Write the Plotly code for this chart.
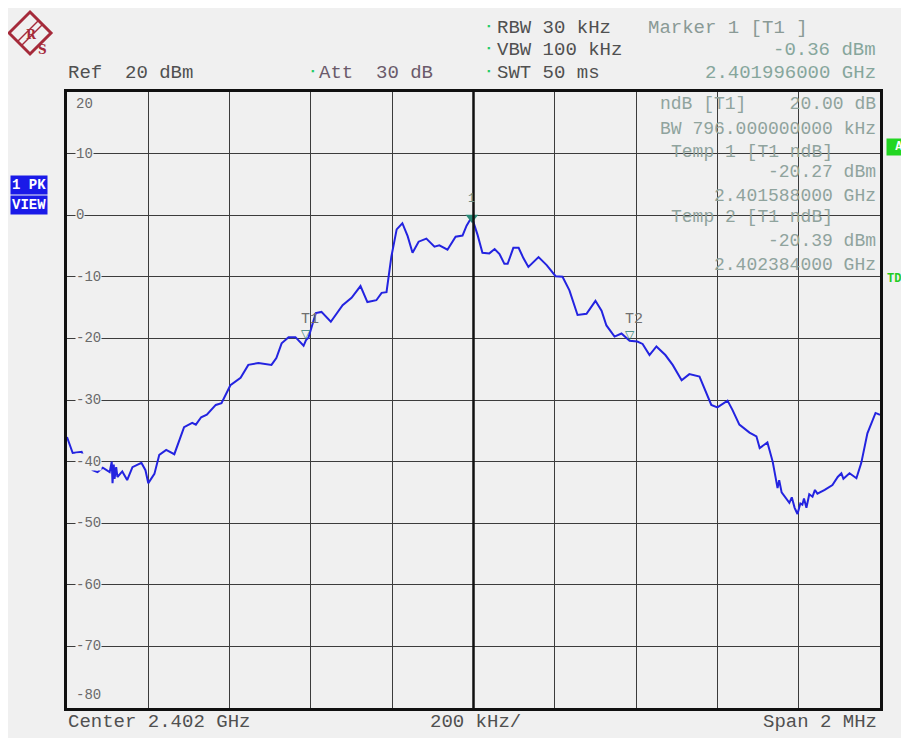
import plotly.graph_objects as go

# ---------------- data ----------------
center_ghz = 2.402
span_mhz = 2
ref_level_dbm = 20
freq_offset_khz = [
    -1000, -986, -964, -952, -937, -925, -912, -895, -890, -888, -885, -883, -879, -876,
    -864, -852, -839, -817, -807, -800, -785, -773, -756, -736, -712, -692, -683, -670,
    -656, -634, -620, -598, -573, -554, -529, -497, -485, -472, -455, -438, -418, -412,
    -406, -388, -374, -351, -322, -300, -278, -261, -239, -226, -214, -202, -189, -175,
    -162, -150, -135, -116, -96, -84, -64, -44, -27, -17, -8, -4, 10, 22, 39, 52, 64,
    76, 84, 98, 111, 123, 135, 148, 160, 180, 202, 219, 236, 256, 278, 300, 315, 327,
    347, 364, 384, 403, 416, 433, 450, 472, 490, 512, 531, 556, 573, 585, 600, 625,
    637, 654, 679, 696, 704, 723, 736, 748, 752, 758, 777, 783, 790, 797, 804, 809,
    813, 819, 826, 834, 840, 846, 864, 883, 896, 905, 910, 918, 925, 942, 954, 969,
    989, 1000,
]
level_dbm = [
    -36.0, -38.6, -38.4, -40.2, -41.4, -41.7, -41.0, -41.7, -40.0, -43.5, -40.5, -42.8, -40.9, -42.5,
    -41.6, -43.0, -40.9, -40.2, -41.4, -43.5, -42.0, -38.9, -38.1, -38.8, -34.4, -33.7, -34.0, -32.8,
    -32.4, -30.8, -30.5, -27.6, -26.4, -24.3, -24.0, -24.3, -23.2, -20.8, -19.8, -19.8, -21.2, -20.27,
    -19.9, -15.9, -15.7, -17.3, -14.6, -13.4, -11.5, -14.1, -13.8, -12.6, -12.5, -6.7, -2.3, -1.3,
    -3.4, -6.1, -4.3, -3.8, -5.1, -4.9, -5.6, -3.5, -3.3, -1.7, -0.7, -0.36, -3.2, -6.1, -6.2, -5.5, -6.3,
    -7.9, -7.9, -5.3, -5.3, -7.0, -8.4, -7.6, -6.8, -8.1, -9.9, -10.0, -12.2, -16.2, -16.0, -13.9, -15.5, -17.9,
    -19.7, -19.2, -20.39, -20.5, -20.9, -22.7, -21.3, -22.7, -24.3, -26.8, -25.8, -26.2, -28.9, -30.8, -31.2, -30.1,
    -31.6, -34.0, -35.3, -35.9, -37.8, -36.9, -40.0, -44.3, -43.0, -45.0, -46.7, -45.8, -47.5, -48.5, -46.8, -47.0,
    -46.0, -47.5, -45.3, -45.7, -44.6, -45.2, -44.6, -43.8, -42.5, -41.9, -42.8, -42.3, -41.9, -42.7, -40.2, -35.4,
    -32.1, -32.4,
]
marker_names = ["1", "T1", "T2"]
marker_freq_khz = [-4, -412, 384]
marker_level_dbm = [-0.36, -20.27, -20.39]
y_tick_values = [20, 10, 0, -10, -20, -30, -40, -50, -60, -70, -80]

# ---------------- geometry helpers (page pixel -> paper) ----------------
OFF = 8                      # browser body margin
W, H = 909 - OFF, 738 - OFF  # figure size
L, R, T, B = 67, 880, 92, 708  # plot area in page pixels
def px(x):
    return (x - L) / (R - L)
def py(y):
    return (B - y) / (B - T)

BG = "#f0f0f0"
MONO = "Liberation Mono, Courier New, monospace"
TXT = "#505050"
MK = "#86a69c"

fig = go.Figure()
fig.add_trace(go.Scatter(
    x=freq_offset_khz, y=level_dbm, mode="lines",
    line=dict(color="#2323e0", width=2), hoverinfo="skip", showlegend=False,
))

# main marker
fig.add_trace(go.Scatter(
    x=marker_freq_khz[:1], y=marker_level_dbm[:1], mode="markers",
    marker=dict(symbol="triangle-down", size=11, color="#2a8a78"), showlegend=False,
))

anns = []
for name, f, lv in zip(marker_names, marker_freq_khz, marker_level_dbm):
    if name == "1":
        anns.append(dict(x=f, y=lv, xref="x", yref="y", text="1", showarrow=False,
                         yshift=18, font=dict(family=MONO, size=12, color="#6a8a80")))
    else:
        anns.append(dict(x=f, y=lv, xref="x", yref="y", text="▽", showarrow=False,
                         yshift=6, font=dict(family="DejaVu Sans", size=12, color="#2a7a70")))
        anns.append(dict(x=f, y=lv, xref="x", yref="y", text=name, showarrow=False,
                         yshift=21, xshift=4, font=dict(family=MONO, size=15, color="#707070")))

# y tick labels inside plot
for v in y_tick_values:
    a = dict(x=0, y=v, xref="x domain", yref="y", text=str(v), showarrow=False,
             xanchor="left", xshift=8, font=dict(family=MONO, size=14, color="#6a6a6a"),
             bgcolor=BG, borderpad=0)
    if v == 20:
        a.update(yanchor="top", yshift=-3, bgcolor="rgba(0,0,0,0)")
    elif v == -80:
        a.update(yanchor="bottom", yshift=4, bgcolor="rgba(0,0,0,0)")
    anns.append(a)

def txt(x, y, s, anchor="left", color=TXT, size=19):
    anns.append(dict(x=px(x), y=py(y), xref="paper", yref="paper", text=s, showarrow=False,
                     xanchor=anchor, yanchor="middle", font=dict(family=MONO, size=size, color=color)))

# header
txt(66, 73, "Ref  20 dBm")
txt(317, 73, "Att  30 dB", color="#6a5a6a")
txt(495, 28, "RBW 30 kHz")
txt(495, 50, "VBW 100 kHz")
txt(495, 73, "SWT 50 ms")
for yy in (27, 49, 72):
    txt(489, yy, "▪", anchor="center", color="#22cc66", size=9)
txt(312, 72, "▪", anchor="center", color="#22cc66", size=9)
txt(646, 28, "Marker 1 [T1 ]", color="#8a9a96")
txt(878, 50, "-0.36 dBm", anchor="right", color=MK)
txt(878, 73, "2.401996000 GHz", anchor="right", color=MK)

# right-hand marker panel
panel = [(104, "ndB [T1]    20.00 dB"), (129, "BW 796.000000000 kHz"),
         (152, "Temp 1 [T1 ndB]    "), (172, "-20.27 dBm"), (196, "2.401588000 GHz"),
         (217, "Temp 2 [T1 ndB]    "), (241, "-20.39 dBm"), (265, "2.402384000 GHz")]
for yy, s in panel:
    txt(878, yy, s, anchor="right", color="#8fa39d", size=18)

# footer
txt(66, 722, "Center 2.402 GHz")
txt(476, 722, "200 kHz/", anchor="center")
txt(879, 722, "Span 2 MHz", anchor="right")

# side boxes
def box(x, y, s, bg, color="white", size=11):
    anns.append(dict(x=px(x), y=py(y), xref="paper", yref="paper", text=s, showarrow=False,
                     xanchor="left", yanchor="middle", bgcolor=bg, borderpad=1,
                     font=dict(family=MONO, size=size, color=color)))
box(10, 185, "<b>1 PK</b>", "#1a1ae8", size=14)
box(10, 205, "<b>VIEW</b>", "#1a1ae8", size=14)
box(886, 147, "<b> A </b>", "#22d622", size=12)
txt(885, 279, "<b>TDF</b>", color="#22cc22", size=12)

shapes = []
# centre line
shapes.append(dict(type="line", xref="x", yref="paper", x0=0, x1=0, y0=0, y1=1,
                   line=dict(color="#101010", width=2.5), layer="above"))
# R&S logo
def path(pts):
    return "M " + " L ".join(f"{px(a)},{py(b)}" for a, b in pts) + " Z"
shapes.append(dict(type="path", xref="paper", yref="paper",
                   path=path([(30, 12), (51, 33), (30, 54), (9, 33)]),
                   line=dict(color="#a52a3a", width=3), fillcolor="rgba(0,0,0,0)"))
for d in (-2, 2):
    shapes.append(dict(type="line", xref="paper", yref="paper",
                       x0=px(19 + d), y0=py(44 + d), x1=px(41 + d), y1=py(22 + d),
                       line=dict(color="#a52a3a", width=1.5)))
anns.append(dict(x=px(24), y=py(26), xref="paper", yref="paper", text="<b>R</b>", showarrow=False,
                 font=dict(family="DejaVu Serif", size=12, color="#a52a3a")))
anns.append(dict(x=px(36), y=py(41), xref="paper", yref="paper", text="<b>S</b>", showarrow=False,
                 font=dict(family="DejaVu Serif", size=12, color="#a52a3a")))

fig.update_layout(
    width=W, height=H,
    margin=dict(l=L - OFF, r=(W + OFF) - R, t=T - OFF, b=(H + OFF) - B, pad=0),
    paper_bgcolor=BG, plot_bgcolor=BG,
    xaxis=dict(range=[-span_mhz * 500, span_mhz * 500], dtick=200, tick0=0,
               showticklabels=False, showgrid=True, gridcolor="#3c3c3c", gridwidth=1.3,
               zeroline=False, showline=True, mirror=True, linecolor="#101010", linewidth=2.5,
               ticks=""),
    yaxis=dict(range=[ref_level_dbm - 100, ref_level_dbm], dtick=10, tick0=0,
               showticklabels=False, showgrid=True, gridcolor="#3c3c3c", gridwidth=1.3,
               zeroline=False, showline=True, mirror=True, linecolor="#101010", linewidth=2.5,
               ticks=""),
    annotations=anns, shapes=shapes,
    showlegend=False,
)

fig.write_html("out.html")
